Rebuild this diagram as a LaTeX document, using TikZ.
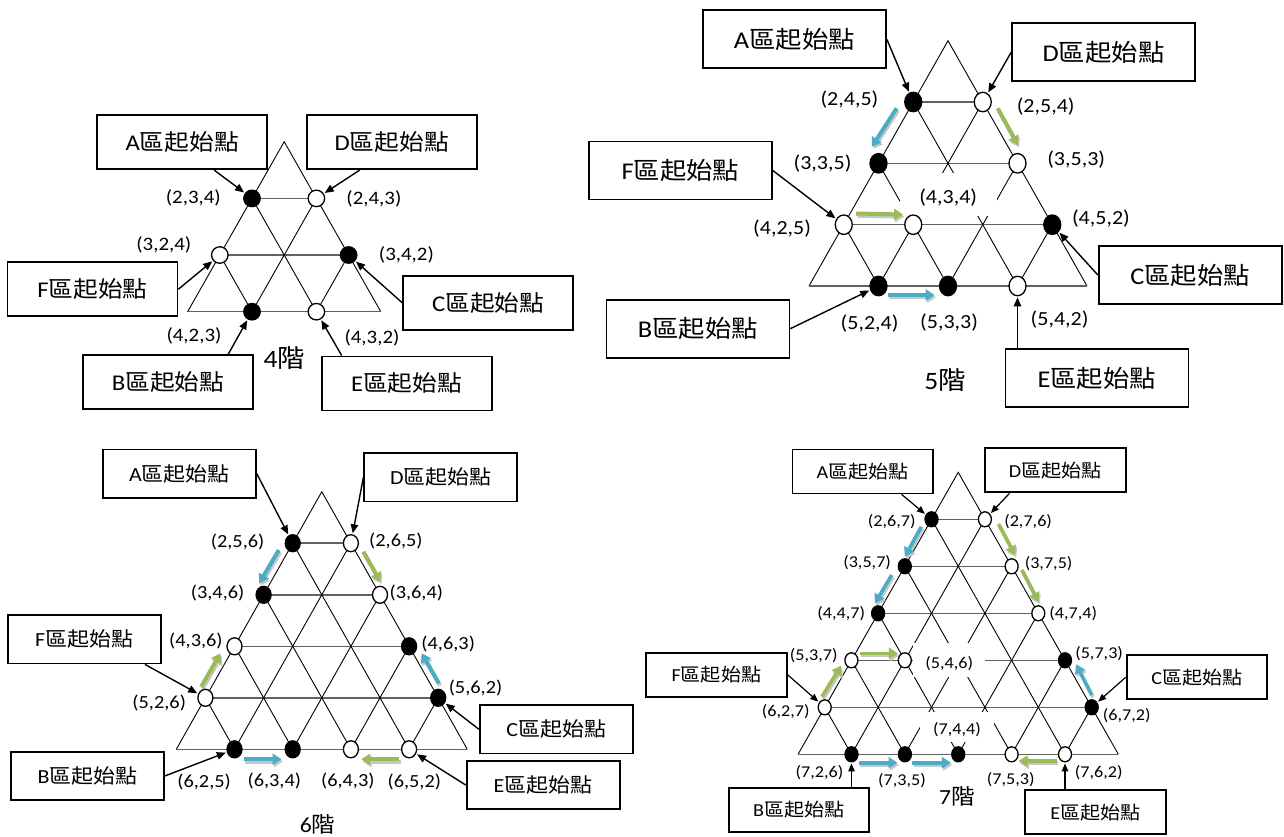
\documentclass[tikz,border=0pt]{standalone}
\usepackage{fontspec}
\newfontfamily\lat[FakeStretch=1.1]{Carlito}
\newfontfamily\cjk[FakeStretch=1.1]{Noto Sans CJK TC}
\usetikzlibrary{arrows.meta,shapes.geometric}
\definecolor{cblue}{RGB}{75,172,198}
\definecolor{cgreen}{RGB}{155,187,89}
\newcommand{\trigrid}[5]{%
  \pgfmathsetmacro{\tgH}{#3-#2}
  \draw[edgel] (#1-#4,#3) -- (#1,#2) -- (#1+#4,#3);
  \foreach \k in {1,...,#5}{
    \pgfmathsetmacro{\tgY}{#2+\k*\tgH/#5}
    \pgfmathsetmacro{\tgW}{#4*\k/#5}
    \draw[rowl] (#1-\tgW,\tgY) -- (#1+\tgW,\tgY);
  }
  \pgfmathtruncatemacro{\tgN}{#5-1}
  \foreach \i in {1,...,\tgN}{
    \pgfmathsetmacro{\tgY}{#2+\i*\tgH/#5}
    \pgfmathsetmacro{\tgW}{#4*\i/#5}
    \pgfmathsetmacro{\tgL}{#1-#4+2*#4*\i/#5}
    \pgfmathsetmacro{\tgR}{#1+#4-2*#4*\i/#5}
    \draw[diagl] (\tgL,#3) -- (#1+\tgW,\tgY);
    \draw[diagl] (\tgR,#3) -- (#1-\tgW,\tgY);
  }
}
\newcommand{\carr}[4][4pt]{%
  \draw[line width=#1, -{Triangle[length=9pt,width=11pt]}, draw=black!22,
        transform canvas={shift={(1.3pt,-2.2pt)}}] #3 -- #4;
  \draw[line width=#1, -{Triangle[length=9pt,width=11pt]}, draw=#2] #3 -- #4;}
\newcommand{\bxt}[1]{{\lat #1}{\cjk 區起始點}}
\newcommand{\ttl}[1]{{\lat #1}{\cjk 階}}
\begin{document}
\begin{tikzpicture}[x=1pt,y=-1pt,
  edgel/.style={black, line width=0.9pt},
  diagl/.style={black, line width=0.9pt},
  rowl/.style={black!62, line width=1.5pt},
  bn/.style={ellipse, draw=black, line width=1.3pt, fill=black, inner sep=0pt},
  wn/.style={ellipse, draw=black, line width=1.3pt, fill=white, inner sep=0pt},
  s4/.style={minimum width=16.5pt, minimum height=16.5pt},
  s5/.style={minimum width=17pt, minimum height=19.5pt},
  s6/.style={minimum width=15pt, minimum height=17pt},
  s7/.style={minimum width=13pt, minimum height=15pt},
  box/.style={draw=black, line width=1.8pt, inner sep=0pt, fill=white},
  box4/.style={box, minimum width=170pt, minimum height=54pt, font=\fontsize{22.5pt}{27pt}\selectfont},
  box5/.style={box, minimum width=183pt, minimum height=58pt, font=\fontsize{24pt}{29pt}\selectfont},
  box6/.style={box, minimum width=153pt, minimum height=48.5pt, font=\fontsize{20pt}{24pt}\selectfont},
  box7/.style={box, minimum width=140.5pt, minimum height=44pt, font=\fontsize{18.3pt}{22pt}\selectfont},
  lab4/.style={inner sep=0pt, font=\fontsize{19pt}{23pt}\selectfont\lat},
  lab5/.style={inner sep=0pt, font=\fontsize{20pt}{24pt}\selectfont\lat},
  lab6/.style={inner sep=0pt, font=\fontsize{18.5pt}{22pt}\selectfont\lat},
  lab7/.style={inner sep=0pt, font=\fontsize{16.5pt}{20pt}\selectfont\lat},
  ttl4/.style={inner sep=0pt, font=\fontsize{25pt}{30pt}\selectfont},
  ttl7/.style={inner sep=0pt, font=\fontsize{21.5pt}{26pt}\selectfont},
  ba/.style={black, line width=1.4pt, -{Triangle[length=9pt,width=7.5pt]}, shorten >=1pt},
  ba7/.style={black, line width=1.2pt, -{Triangle[length=8pt,width=6.5pt]}, shorten >=1pt}
]
\useasboundingbox (0,0) rectangle (1284,836);
\fill[white] (0,0) rectangle (1284,836);

% ---------------- grids ----------------
\trigrid{284.2}{141.7}{311.7}{96.6}{3}
\trigrid{948}{40.7}{286}{139}{4}
\trigrid{321.8}{491.7}{749.3}{145.5}{5}
\trigrid{958.2}{472.3}{754.3}{160.15}{6}

% gaps behind labels
\fill[white] (900,173) rectangle (997,216);
\fill[white] (913,643) rectangle (985,677);
\fill[white] (920,712) rectangle (994,742);

% ---------------- 4階 ----------------
\node[bn,s4] (n4a) at (252.0,198.4) {};
\node[wn,s4] (n4b) at (316.4,198.4) {};
\node[wn,s4] (n4c) at (219.8,255.0) {};
\node[bn,s4] (n4d) at (348.6,255.0) {};
\node[bn,s4] (n4e) at (252.0,311.7) {};
\node[wn,s4] (n4f) at (316.4,311.7) {};
\node[lab4] (l4a) at (193.3,198.3) {(2,3,4)};
\node[lab4] (l4b) at (373.9,199.3) {(2,4,3)};
\node[lab4] (l4c) at (163.8,245.0) {(3,2,4)};
\node[lab4] (l4d) at (406.4,255.0) {(3,4,2)};
\node[lab4] (l4e) at (194.0,336.0) {(4,2,3)};
\node[lab4] (l4f) at (372.0,338.3) {(4,3,2)};
\node[ttl4] (t4) at (284.3,358.3) {\ttl{4}};
\node[box4] (A4) at (182.2,142.2) {\bxt{A}};
\node[box4] (D4) at (391.7,142.2) {\bxt{D}};
\node[box4] (F4) at (92.5,289.2) {\bxt{F}};
\node[box4] (C4) at (488.3,302.9) {\bxt{C}};
\node[box4] (B4) at (168.2,382.2) {\bxt{B}};
\node[box4] (E4) at (406.7,383.4) {\bxt{E}};
\draw[ba] ([xshift=32pt]A4.south) -- (n4a);
\draw[ba] ([xshift=-32pt]D4.south) -- (n4b);
\draw[ba] (F4.east) -- (n4c);
\draw[ba] (C4.west) -- (n4d);
\draw[ba] ([xshift=60pt]B4.north) -- (n4e);
\draw[ba] ([xshift=-65pt]E4.north) -- (n4f);

% ---------------- 5階 ----------------
\carr{cblue}{(896.6,108.3)}{(871.9,146.7)}
\carr{cgreen}{(997.6,108.3)}{(1017.8,145)}
\carr{cgreen}{(856.2,213.5)}{(903,214.5)}
\carr{cblue}{(887.6,295)}{(934.7,295)}
\node[bn,s5] (n5a) at (913.25,102) {};
\node[wn,s5] (n5b) at (982.75,102) {};
\node[bn,s5] (n5c) at (878.5,163.3) {};
\node[wn,s5] (n5d) at (1017.5,163.3) {};
\node[wn,s5] (n5e) at (843.75,224.7) {};
\node[wn,s5] (n5f) at (913.25,224.7) {};
\node[bn,s5] (n5g) at (1052.25,224.7) {};
\node[bn,s5] (n5h) at (878.5,286) {};
\node[bn,s5] (n5i) at (948,286) {};
\node[wn,s5] (n5j) at (1017.5,286) {};
\node[lab5] (l5a) at (849.4,100) {(2,4,5)};
\node[lab5] (l5b) at (1045.7,106.7) {(2,5,4)};
\node[lab5] (l5c) at (822.5,164) {(3,3,5)};
\node[lab5] (l5d) at (1076.2,160) {(3,5,3)};
\node[lab5] (l5e) at (948.2,197.7) {(4,3,4)};
\node[lab5] (l5f) at (782.1,228.3) {(4,2,5)};
\node[lab5] (l5g) at (1100.9,218.3) {(4,5,2)};
\node[lab5] (l5h) at (869.6,323.3) {(5,2,4)};
\node[lab5] (l5i) at (949.1,322.7) {(5,3,3)};
\node[lab5] (l5j) at (1059.6,320) {(5,4,2)};
\node[ttl4] (t5) at (945,380) {\ttl{5}};
\node[box5] (A5) at (794.4,39.2) {\bxt{A}};
\node[box5] (D5) at (1103.6,52.2) {\bxt{D}};
\node[box5] (F5) at (680.4,170.5) {\bxt{F}};
\node[box5] (C5) at (1190.2,275) {\bxt{C}};
\node[box5] (B5) at (697.9,328.7) {\bxt{B}};
\node[box5] (E5) at (1096.9,378.2) {\bxt{E}};
\draw[ba] (A5.east) -- (n5a);
\draw[ba] (D5.west) -- (n5b);
\draw[ba] (F5.east) -- (n5e);
\draw[ba] (C5.west) -- (n5g);
\draw[ba] (B5.east) -- (n5h);
\draw[ba] ([xshift=-79.4pt]E5.north) -- (n5j);

% ---------------- 6階 ----------------
\carr{cblue}{(278.8,550)}{(259.2,583.3)}
\carr{cgreen}{(363.3,551.7)}{(380.4,581.7)}
\carr{cgreen}{(201.2,686.7)}{(220.4,653.3)}
\carr{cblue}{(438.8,683.3)}{(421.6,653.3)}
\carr{cblue}{(243.7,759.3)}{(281.6,759.3)}
\carr{cgreen}{(399.2,759.3)}{(361.2,759.3)}
\node[bn,s6] (n6a) at (292.7,543.2) {};
\node[wn,s6] (n6b) at (350.9,543.2) {};
\node[bn,s6] (n6c) at (263.6,594.8) {};
\node[wn,s6] (n6d) at (380.0,594.8) {};
\node[wn,s6] (n6e) at (234.5,646.3) {};
\node[bn,s6] (n6f) at (409.1,646.3) {};
\node[wn,s6] (n6g) at (205.4,697.8) {};
\node[bn,s6] (n6h) at (438.2,697.8) {};
\node[bn,s6] (n6i) at (234.5,749.3) {};
\node[bn,s6] (n6j) at (292.7,749.3) {};
\node[wn,s6] (n6k) at (350.9,749.3) {};
\node[wn,s6] (n6l) at (409.1,749.3) {};
\node[lab6] (l6a) at (237.6,541.7) {(2,5,6)};
\node[lab6] (l6b) at (395.9,540.7) {(2,6,5)};
\node[lab6] (l6c) at (217.6,592.7) {(3,4,6)};
\node[lab6] (l6d) at (416.3,592.7) {(3,6,4)};
\node[lab6] (l6e) at (195.9,641) {(4,3,6)};
\node[lab6] (l6f) at (448.2,644.3) {(4,6,3)};
\node[lab6] (l6g) at (159.2,703.3) {(5,2,6)};
\node[lab6] (l6h) at (475.5,688.3) {(5,6,2)};
\node[lab6] (l6i) at (204.1,781.7) {(6,2,5)};
\node[lab6] (l6j) at (274.3,780.7) {(6,3,4)};
\node[lab6] (l6k) at (347.8,780.7) {(6,4,3)};
\node[lab6] (l6l) at (414.3,781.7) {(6,5,2)};
\node[ttl7] (t6) at (317.6,824.3) {\ttl{6}};
\node[box6] (A6) at (179.4,473.7) {\bxt{A}};
\node[box6] (D6) at (440.8,477.2) {\bxt{D}};
\node[box6] (F6) at (84.1,639.2) {\bxt{F}};
\node[box6] (C6) at (556.2,729.2) {\bxt{C}};
\node[box6] (B6) at (87.6,775.9) {\bxt{B}};
\node[box6] (E6) at (543.1,785) {\bxt{E}};
\draw[ba] (A6.east) -- (n6a);
\draw[ba] (D6.west) -- (n6b);
\draw[ba] ([xshift=60.8pt]F6.south) -- (n6g);
\draw[ba] (C6.west) -- (n6h);
\draw[ba] (B6.east) -- (n6i);
\draw[ba] (E6.west) -- (n6l);

% ---------------- 7階 ----------------
\carr[3.6pt]{cblue}{(921.3,526.7)}{(904.9,556.7)}
\carr[3.6pt]{cblue}{(891.7,575)}{(874.9,603.3)}
\carr[3.6pt]{cgreen}{(998.5,524)}{(1015,555)}
\carr[3.6pt]{cgreen}{(1021.9,570)}{(1038.4,601.7)}
\carr[3.6pt]{cgreen}{(859.7,653.3)}{(897.9,653.3)}
\carr[3.6pt]{cgreen}{(821.9,696.7)}{(841.2,665.7)}
\carr[3.6pt]{cblue}{(1091.7,695)}{(1076.1,664.3)}
\carr[3.6pt]{cblue}{(858.9,762.7)}{(897.5,762.7)}
\carr[3.6pt]{cblue}{(912.3,762.7)}{(950.9,762.7)}
\carr[3.6pt]{cgreen}{(1056.8,761)}{(1018.6,761)}
\node[bn,s7] (n7a) at (931.5,519.3) {};
\node[wn,s7] (n7b) at (984.9,519.3) {};
\node[bn,s7] (n7c) at (904.8,566.3) {};
\node[wn,s7] (n7d) at (1011.6,566.3) {};
\node[bn,s7] (n7e) at (878.1,613.3) {};
\node[wn,s7] (n7f) at (1038.3,613.3) {};
\node[wn,s7] (n7g) at (851.4,660.3) {};
\node[wn,s7] (n7h) at (904.8,660.3) {};
\node[bn,s7] (n7i) at (1065.0,660.3) {};
\node[wn,s7] (n7j) at (824.7,707.3) {};
\node[bn,s7] (n7k) at (1091.7,707.3) {};
\node[bn,s7] (n7l) at (851.5,754.3) {};
\node[bn,s7] (n7m) at (904.9,754.3) {};
\node[bn,s7] (n7n) at (958.2,754.3) {};
\node[wn,s7] (n7o) at (1011.6,754.3) {};
\node[wn,s7] (n7p) at (1065.0,754.3) {};
\node[lab7] (l7a) at (891.7,521.7) {(2,6,7)};
\node[lab7] (l7b) at (1028.1,521.7) {(2,7,6)};
\node[lab7] (l7c) at (867.1,562.7) {(3,5,7)};
\node[lab7] (l7d) at (1048.6,563.3) {(3,7,5)};
\node[lab7] (l7e) at (841.2,613.3) {(4,4,7)};
\node[lab7] (l7f) at (1073.3,614) {(4,7,4)};
\node[lab7] (l7g) at (813.7,656) {(5,3,7)};
\node[lab7] (l7h) at (949.2,663.3) {(5,4,6)};
\node[lab7] (l7i) at (1099.1,653.3) {(5,7,3)};
\node[lab7] (l7j) at (785.8,711.7) {(6,2,7)};
\node[lab7] (l7k) at (1126.7,716) {(6,7,2)};
\node[lab7] (l7n) at (957,729.3) {(7,4,4)};
\node[lab7] (l7l) at (819.5,772.3) {(7,2,6)};
\node[lab7] (l7m) at (902,781) {(7,3,5)};
\node[lab7] (l7o) at (1010.8,780) {(7,5,3)};
\node[lab7] (l7p) at (1098.7,772.3) {(7,6,2)};
\node[ttl7] (t7) at (957,796.7) {\ttl{7}};
\node[box7] (A7) at (862.8,471.5) {\bxt{A}};
\node[box7] (D7) at (1055.4,470.3) {\bxt{D}};
\node[box7] (F7) at (716.4,674.7) {\bxt{F}};
\node[box7] (C7) at (1196.9,677.2) {\bxt{C}};
\node[box7] (B7) at (798.9,809.7) {\bxt{B}};
\node[box7] (E7) at (1095.5,812.2) {\bxt{E}};
\draw[ba7] ([xshift=38.8pt]A7.south) -- (n7a);
\draw[ba7] ([xshift=-45.8pt]D7.south) -- (n7b);
\draw[ba7] (F7.east) -- (n7j);
\draw[ba7] (C7.west) -- (n7k);
\draw[ba7] ([xshift=52.6pt]B7.north) -- (n7l);
\draw[ba7] ([xshift=-30.5pt]E7.north) -- (n7p);
\end{tikzpicture}
\end{document}
